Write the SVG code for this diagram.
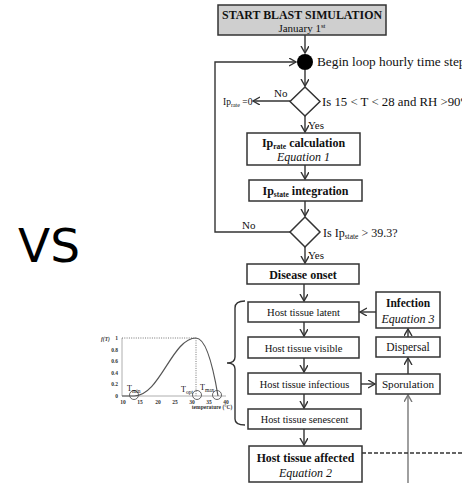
<svg xmlns="http://www.w3.org/2000/svg" width="462" height="483" viewBox="0 0 462 483">
<style>
.box{fill:#fff;stroke:#333;stroke-width:1.5}
.ln{fill:none;stroke:#333;stroke-width:1.4}
.t{font-family:"Liberation Serif","Times New Roman",serif;fill:#111}
.b{font-weight:bold}
.i{font-style:italic}
.g{font-family:"Liberation Serif","Times New Roman",serif;font-weight:bold;fill:#333;font-size:5.5px}
.dot{fill:none;stroke:#666;stroke-width:0.9;stroke-dasharray:1,1.3}
</style>
<defs>
<marker id="ah" markerWidth="10" markerHeight="10" refX="7" refY="4" orient="auto" markerUnits="userSpaceOnUse">
<path d="M0,0 L7,4 L0,8" fill="none" stroke="#333" stroke-width="1.4"/>
</marker>
<marker id="ahg" markerWidth="10" markerHeight="10" refX="7" refY="4" orient="auto" markerUnits="userSpaceOnUse">
<path d="M0,0 L7,4 L0,8" fill="none" stroke="#777" stroke-width="1.4"/>
</marker>
</defs>
<rect width="462" height="483" fill="#fff"/>
<text x="18" y="262" font-family="DejaVu Sans, sans-serif" font-size="47" fill="#000">VS</text>

<g id="connectors">
<line class="ln" x1="305" y1="35" x2="305" y2="53" marker-end="url(#ah)"/>
<polyline class="ln" points="290,232 215,232 215,62 296,62" marker-end="url(#ah)"/>
<line class="ln" x1="305" y1="70" x2="305" y2="86" marker-end="url(#ah)"/>
<line class="ln" x1="290" y1="101" x2="253" y2="101" marker-end="url(#ah)"/>
<line class="ln" x1="305" y1="116" x2="305" y2="132" marker-end="url(#ah)"/>
<line class="ln" x1="305" y1="165" x2="305" y2="179" marker-end="url(#ah)"/>
<line class="ln" x1="305" y1="201" x2="305" y2="216" marker-end="url(#ah)"/>
<line class="ln" x1="305" y1="247" x2="305" y2="263" marker-end="url(#ah)"/>
<line class="ln" x1="304" y1="284" x2="304" y2="301" marker-end="url(#ah)"/>
<line class="ln" x1="304" y1="322" x2="304" y2="336" marker-end="url(#ah)"/>
<line class="ln" x1="304" y1="358" x2="304" y2="372" marker-end="url(#ah)"/>
<line class="ln" x1="304" y1="394" x2="304" y2="408" marker-end="url(#ah)"/>
<line class="ln" x1="304" y1="429" x2="304" y2="445" marker-end="url(#ah)"/>
<line class="ln" x1="376" y1="312" x2="360" y2="312" marker-end="url(#ah)"/>
<line class="ln" x1="408" y1="337" x2="408" y2="329" marker-end="url(#ah)"/>
<line class="ln" x1="408" y1="374" x2="408" y2="358" marker-end="url(#ah)"/>
<line class="ln" x1="361" y1="384" x2="375" y2="384" marker-end="url(#ah)"/>
<line x1="408" y1="483" x2="408" y2="395" fill="none" stroke="#777" stroke-width="1.4" marker-end="url(#ahg)"/>
<line x1="362" y1="453" x2="462" y2="453" stroke="#333" stroke-width="1.3" stroke-dasharray="4,2"/>
<path class="ln" d="M245,301 Q235,301 235,308 L235,357 Q235,363 227,363 Q235,363 235,369 L235,419 Q235,425 245,425"/>
</g>

<g id="start">
<rect x="218" y="5" width="168" height="30" fill="#cfcfcf" stroke="#333" stroke-width="1.5"/>
<text class="t b" x="302" y="19" font-size="11.9" text-anchor="middle">START BLAST SIMULATION</text>
<text class="t" x="302" y="32" font-size="11" text-anchor="middle">January 1<tspan font-size="7" dy="-4">st</tspan></text>
</g>

<g id="loop-start">
<circle cx="305" cy="62" r="8" fill="#000"/>
<text class="t" x="317" y="66" font-size="13.3">Begin loop hourly time step</text>
</g>

<g id="decision1">
<polygon class="box" points="305,87 320,101.5 305,116 290,101.5"/>
<text class="t" x="322" y="105.5" font-size="12.8">Is 15 &lt; T &lt; 28 and RH &gt;90%?</text>
<text class="t" x="274" y="97" font-size="11">No</text>
<text class="t" x="308" y="129" font-size="11">Yes</text>
</g>

<g id="iprate-zero">
<text class="t" x="223" y="105" font-size="9.5">Ip<tspan font-size="6" dy="1.5">rate</tspan><tspan dy="-1.5"> =0</tspan></text>
</g>

<g id="iprate-calc">
<rect class="box" x="247" y="133" width="113" height="32"/>
<text class="t b" x="303.5" y="146.5" font-size="12" text-anchor="middle">Ip<tspan font-size="7.5" dy="2">rate</tspan><tspan dy="-2"> calculation</tspan></text>
<text class="t i" x="303.5" y="160.5" font-size="12" text-anchor="middle">Equation 1</text>
</g>

<g id="ipstate-int">
<rect class="box" x="249" y="180" width="113" height="21"/>
<text class="t b" x="305.5" y="195" font-size="12" text-anchor="middle">Ip<tspan font-size="7.5" dy="2">state</tspan><tspan dy="-2"> integration</tspan></text>
</g>

<g id="decision2">
<polygon class="box" points="305,217 320,232 305,247 290,232"/>
<text class="t" x="323" y="236.5" font-size="12">Is Ip<tspan font-size="7.5" dy="2">state</tspan><tspan dy="-2"> &gt; 39.3?</tspan></text>
<text class="t" x="242" y="229" font-size="11">No</text>
<text class="t" x="308" y="259" font-size="11">Yes</text>
</g>

<g id="disease-onset">
<rect class="box" x="247" y="264" width="112" height="20"/>
<text class="t b" x="303" y="278.5" font-size="12" text-anchor="middle">Disease onset</text>
</g>

<g id="latent">
<rect class="box" x="248" y="302" width="111" height="20"/>
<text class="t" x="303.5" y="316" font-size="10.6" text-anchor="middle">Host tissue latent</text>
</g>
<g id="visible">
<rect class="box" x="248" y="337" width="111" height="21"/>
<text class="t" x="303.5" y="351.5" font-size="10.6" text-anchor="middle">Host tissue visible</text>
</g>
<g id="infectious">
<rect class="box" x="248" y="373" width="113" height="21"/>
<text class="t" x="304.5" y="387.5" font-size="10.4" text-anchor="middle">Host tissue infectious</text>
</g>
<g id="senescent">
<rect class="box" x="248" y="409" width="113" height="20"/>
<text class="t" x="304.5" y="423" font-size="10.3" text-anchor="middle">Host tissue senescent</text>
</g>
<g id="affected">
<rect class="box" x="249" y="446" width="113" height="36"/>
<text class="t b" x="305.5" y="462" font-size="11.8" text-anchor="middle">Host tissue affected</text>
<text class="t i" x="305.5" y="477" font-size="12" text-anchor="middle">Equation 2</text>
</g>

<g id="infection">
<rect class="box" x="376" y="292" width="64" height="36"/>
<text class="t b" x="408" y="306.5" font-size="11.5" text-anchor="middle">Infection</text>
<text class="t i" x="408" y="322.5" font-size="12" text-anchor="middle">Equation 3</text>
</g>
<g id="dispersal">
<rect class="box" x="376" y="337" width="64" height="20"/>
<text class="t" x="408" y="351" font-size="11.5" text-anchor="middle">Dispersal</text>
</g>
<g id="sporulation">
<rect class="box" x="376" y="374" width="64" height="20"/>
<text class="t" x="408" y="388" font-size="11.2" text-anchor="middle">Sporulation</text>
</g>

<g id="temperature-graph">
<line x1="122" y1="338" x2="122" y2="396" stroke="#999" stroke-width="0.8"/>
<line x1="122" y1="396" x2="226" y2="396" stroke="#999" stroke-width="0.8"/>
<line class="dot" x1="122" y1="338" x2="196" y2="338"/>
<line class="dot" x1="196" y1="338" x2="196" y2="396"/>
<path d="M122,396 L134,396 C160,396 172,338 196,338 C205,338 212,360 218,396" fill="none" stroke="#555" stroke-width="1.2"/>
<circle cx="134" cy="395" r="4.5" fill="none" stroke="#555" stroke-width="0.9"/>
<circle cx="197" cy="395" r="4.5" fill="none" stroke="#555" stroke-width="0.9"/>
<circle cx="217" cy="395" r="4.5" fill="none" stroke="#555" stroke-width="0.9"/>
<text class="g i" x="101" y="341" font-size="6">f(T)</text>
<text class="g" x="118" y="340" text-anchor="end">1</text>
<text class="g" x="118" y="351.5" text-anchor="end">0.8</text>
<text class="g" x="118" y="363" text-anchor="end">0.6</text>
<text class="g" x="118" y="374.5" text-anchor="end">0.4</text>
<text class="g" x="118" y="386" text-anchor="end">0.2</text>
<text class="g" x="118" y="398" text-anchor="end">0</text>
<text class="g" x="123" y="403.5" text-anchor="middle">10</text>
<text class="g" x="140" y="403.5" text-anchor="middle">15</text>
<text class="g" x="158" y="403.5" text-anchor="middle">20</text>
<text class="g" x="175" y="403.5" text-anchor="middle">25</text>
<text class="g" x="192" y="403.5" text-anchor="middle">30</text>
<text class="g" x="209" y="403.5" text-anchor="middle">35</text>
<text class="g" x="226" y="403.5" text-anchor="middle">40</text>
<text class="g" x="212" y="409" font-size="5" text-anchor="middle">temperature (°C)</text>
<text class="t" x="127" y="391" font-size="8">T<tspan font-size="5.5" dy="1.5">min</tspan></text>
<text class="t" x="181" y="392" font-size="8">T<tspan font-size="5.5" dy="1.5">opt</tspan></text>
<text class="t" x="200" y="390" font-size="8">T<tspan font-size="5.5" dy="1.5">max</tspan></text>
</g>
</svg>
